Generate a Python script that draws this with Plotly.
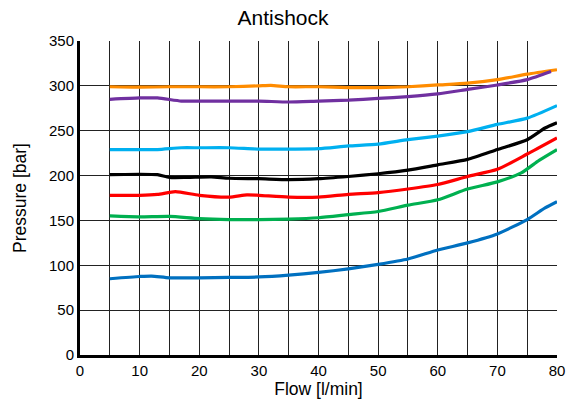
import plotly.graph_objects as go

flow_orange = [5, 10, 15, 20, 25, 30, 32, 35, 40, 45, 50, 55, 60, 65, 70, 75, 80]
p_orange = [299, 298.5, 299, 299, 299, 300, 300.5, 299, 299, 298, 298, 299, 301, 303, 307, 313, 318]

flow_purple = [5, 10, 13, 17, 20, 25, 30, 35, 40, 45, 50, 55, 60, 65, 70, 75, 79]
p_purple = [285, 286.5, 286.5, 283, 283, 283, 283, 282, 283, 284, 286, 288, 291, 296, 301, 307, 316]

flow_cyan = [5, 10, 13, 17, 20, 25, 30, 35, 40, 45, 50, 55, 60, 65, 70, 75, 80]
p_cyan = [229, 229, 229, 231, 231, 231, 229.5, 229.5, 230, 233, 235, 240, 244, 249, 257, 264, 278]

flow_black = [5, 10, 13, 15, 18, 22, 25, 30, 35, 40, 45, 50, 55, 60, 65, 70, 75, 78, 80]
p_black = [201, 201.5, 201, 198, 198, 198.5, 197, 196.5, 195.5, 196.5, 199, 202, 206, 212, 218, 229, 240, 253, 259]

flow_red = [5, 10, 13, 16, 20, 25, 28, 30, 35, 40, 45, 50, 55, 60, 65, 70, 75, 80]
p_red = [178, 178, 179, 182, 178, 176, 178.5, 178, 176, 176, 179, 181, 185, 190, 199, 207, 224, 242]

flow_green = [5, 10, 15, 20, 25, 30, 35, 40, 45, 50, 55, 60, 65, 70, 74, 77, 80]
p_green = [155, 154, 154.5, 152, 151, 151, 151.5, 153, 156.5, 160, 167, 173, 185, 193, 203, 217, 229]

flow_blue = [5, 10, 12, 15, 20, 25, 30, 35, 40, 45, 50, 55, 60, 65, 70, 75, 78, 80]
p_blue = [85, 87.5, 88, 86, 86, 86.5, 87, 89, 92, 96, 101, 107, 117, 125, 135, 151, 164, 171]

x_ticks = [0, 10, 20, 30, 40, 50, 60, 70, 80]

series = [
    (flow_orange, p_orange, "#FF8C00"),
    (flow_purple, p_purple, "#7030A0"),
    (flow_cyan, p_cyan, "#00B0F0"),
    (flow_black, p_black, "#000000"),
    (flow_red, p_red, "#FF0000"),
    (flow_green, p_green, "#00B050"),
    (flow_blue, p_blue, "#0070C0"),
]

fig = go.Figure()
for fx, py, col in series:
    fig.add_trace(go.Scatter(x=fx, y=py, mode="lines",
                             line=dict(color=col, width=3.2, shape="spline", smoothing=0.6),
                             showlegend=False, hoverinfo="skip"))

fig.update_layout(
    width=566, height=401,
    margin=dict(l=80, r=9, t=41, b=46),
    paper_bgcolor="white", plot_bgcolor="white",
    font=dict(family="Liberation Sans, Arial, sans-serif", color="black", size=15),
    title=dict(text="Antishock", x=0.5, xanchor="center", y=0.975, yanchor="top",
               font=dict(size=21, color="black")),
    xaxis=dict(range=[0, 80], tickvals=x_ticks,
               ticktext=[str(v) for v in x_ticks],
               showgrid=True, gridcolor="#222222", gridwidth=1,
               minor=dict(dtick=5, showgrid=True, gridcolor="#222222", gridwidth=1),
               showline=True, linecolor="black", linewidth=3,
               ticks="", zeroline=False, tickfont=dict(size=15), automargin=False,
               title=dict(text="Flow [l/min]", font=dict(size=17.5), standoff=4)),
    yaxis=dict(range=[0, 350], dtick=50,
               showgrid=True, gridcolor="#222222", gridwidth=1,
               showline=True, linecolor="black", linewidth=3,
               ticks="", zeroline=False, tickfont=dict(size=15), automargin=False,
               title=dict(text="Pressure [bar]", font=dict(size=17.5), standoff=18)),
)

fig.write_html("out.html", config={"displayModeBar": False},
               post_script="document.body.style.margin='0';")
